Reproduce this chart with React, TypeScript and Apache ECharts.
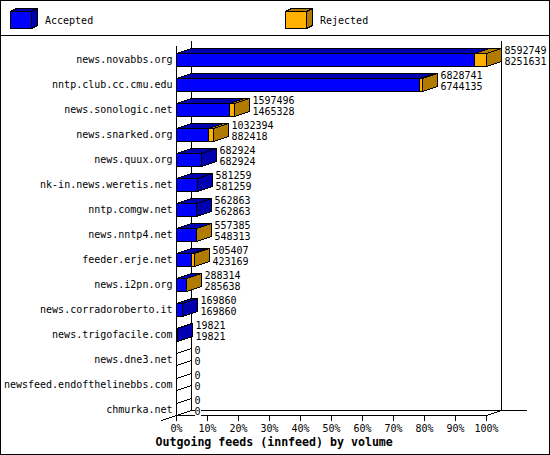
import React, { useEffect, useRef } from "react";
import * as echarts from "echarts";

const hosts = ["news.novabbs.org","nntp.club.cc.cmu.edu","news.sonologic.net","news.snarked.org","news.quux.org","nk-in.news.weretis.net","nntp.comgw.net","news.nntp4.net","feeder.erje.net","news.i2pn.org","news.corradoroberto.it","news.trigofacile.com","news.dne3.net","newsfeed.endofthelinebbs.com","chmurka.net"];
const offered = [8592749,6828741,1597496,1032394,682924,581259,562863,557385,505407,288314,169860,19821,0,0,0];
const accepted = [8251631,6744135,1465328,882418,682924,581259,562863,548313,423169,285638,169860,19821,0,0,0];
const tickPercents = [0,10,20,30,40,50,60,70,80,90,100];

const FONT = "'DejaVu Sans Mono'";
const BLUE = "#0000ff", BLUE_DARK = "#0000b0", ORANGE = "#ffb000", BROWN = "#b07b00";
const DX = 15, DY = 5;
const maxValue = Math.max(...offered);

const snap = (v: number) => Math.floor(v) + 0.5;

function poly(points: number[][], fill: string) {
  return { type: "polygon", shape: { points }, style: { fill, stroke: "#000", lineWidth: 1 } };
}
function seg(x1: number, y1: number, x2: number, y2: number) {
  return { type: "line", shape: { x1, y1, x2, y2 }, style: { stroke: "#000", lineWidth: 1 } };
}
function block(x0: number, x1: number, top: number, bot: number, front: string, dark: string) {
  return [
    poly([[x0, top], [x1, top], [x1 + DX, top - DY], [x0 + DX, top - DY]], dark),
    poly([[x1, top], [x1 + DX, top - DY], [x1 + DX, bot - DY], [x1, bot]], dark),
    poly([[x0, top], [x1, top], [x1, bot], [x0, bot]], front),
  ];
}
function cube(x: number, y: number, w: number, h: number, front: string, dark: string) {
  const d = 6, e = 3;
  return [
    { type: "polygon", shape: { points: [[x, y], [x + w, y], [x + w + d, y - e], [x + d, y - e]] }, style: { fill: dark, stroke: "#000", lineWidth: 1 } },
    { type: "polygon", shape: { points: [[x + w, y], [x + w + d, y - e], [x + w + d, y + h - e], [x + w, y + h]] }, style: { fill: dark, stroke: "#000", lineWidth: 1 } },
    { type: "rect", shape: { x, y, width: w, height: h }, style: { fill: front, stroke: "#000", lineWidth: 1 } },
  ];
}

export default function App() {
  const ref = useRef<HTMLDivElement>(null);
  useEffect(() => {
    document.body.style.margin = "0";
    const chart = echarts.init(ref.current!, undefined, { renderer: "svg" });
    chart.setOption({
      animation: false,
      backgroundColor: "#fff",
      grid: { left: 176.5, top: 40.5, width: 310, height: 375, containLabel: false },
      xAxis: {
        type: "value", min: 0, max: 100, interval: 10,
        splitLine: { show: false },
        axisLine: { show: true, lineStyle: { color: "#000", width: 1 } },
        axisTick: { show: true, length: 5, lineStyle: { color: "#000", width: 1 } },
        axisLabel: { formatter: (v: number) => (tickPercents.includes(v) ? v + "%" : ""), color: "#000", fontFamily: FONT, fontSize: 10, margin: 8 },
      },
      yAxis: {
        type: "category", inverse: true, data: hosts,
        axisLine: { show: false }, axisTick: { show: false }, splitLine: { show: false },
        axisLabel: { color: "#000", fontFamily: FONT, fontSize: 10, margin: 4, verticalAlign: "top", padding: [1, 0, 0, 0] },
      },
      series: [
        {
          type: "custom", coordinateSystem: "cartesian2d", clip: false, z: 1, silent: true,
          data: [[0, 0]],
          renderItem: (_p: any, api: any) => {
            const x0 = snap(api.coord([0, 0])[0]);
            const x1 = snap(api.coord([100, 0])[0]);
            const band = api.size([0, 1])[1];
            const yTop = snap(api.coord([0, 0])[1] - band / 2);
            const yBot = snap(yTop + band * hosts.length);
            const children: any[] = [
              seg(x0, yTop + DY, x0, yBot),
              seg(x0 + DX, yTop, x0 + DX, yBot - DY),
              seg(x1 + DX, yTop, x1 + DX, yBot - DY),
              seg(x0 + DX, yBot - DY, x1 + DX + 25, yBot - DY),
              seg(x1, yBot, x1 + DX, yBot - DY),
              seg(x0 - DX, yBot + DY, x0 + DX, yBot - DY),
            ];
            for (let k = 1; k <= hosts.length * 2 - 1; k++) {
              const y = snap(yBot - (k * band) / 2);
              children.push(seg(x0, y, x0 + DX, y - DY));
            }
            return { type: "group", children };
          },
        },
        {
          type: "custom", coordinateSystem: "cartesian2d", clip: false, z: 2, silent: true,
          encode: { x: 1, y: 0 },
          data: hosts.map((_h, i) => [i, (accepted[i] / maxValue) * 100, (offered[i] / maxValue) * 100, offered[i], accepted[i]]),
          renderItem: (_p: any, api: any) => {
            const i = api.value(0);
            const c = api.coord([0, i]);
            const band = api.size([0, 1])[1];
            const x0 = snap(c[0]);
            const top = snap(c[1]);
            const bot = snap(top + band / 2);
            const xa = snap(api.coord([api.value(1), i])[0]);
            const xt = snap(api.coord([api.value(2), i])[0]);
            const children: any[] = [];
            if (api.value(3) > 0) {
              children.push(...block(x0, xa, top, bot, BLUE, BLUE_DARK));
              if (api.value(3) > api.value(4)) children.push(...block(xa, xt, top, bot, ORANGE, BROWN));
            }
            const tx = xt + DX + 3;
            const label = (text: string, y: number) => ({
              type: "text", x: tx, y,
              style: { text, fill: "#000", font: `10px ${FONT}`, textAlign: "left", textVerticalAlign: "middle", backgroundColor: "#fff" },
            });
            children.push(label(String(api.value(3)), top - 3), label(String(api.value(4)), top + 8));
            return { type: "group", children };
          },
        },
      ],
      graphic: [
        { type: "rect", shape: { x: 0.5, y: 0.5, width: 549, height: 454 }, style: { fill: "none", stroke: "#000", lineWidth: 1 }, z: 10 },
        { type: "line", shape: { x1: 0, y1: 35.5, x2: 550, y2: 35.5 }, style: { stroke: "#000", lineWidth: 1 }, z: 10 },
        ...cube(10.5, 11.5, 21, 17, BLUE, BLUE_DARK).map((e) => ({ ...e, z: 10 })),
        ...cube(285.5, 11.5, 21, 17, ORANGE, BROWN).map((e) => ({ ...e, z: 10 })),
        { type: "text", x: 45, y: 20, z: 10, style: { text: "Accepted", fill: "#000", font: `10px ${FONT}`, textVerticalAlign: "middle" } },
        { type: "text", x: 320, y: 20, z: 10, style: { text: "Rejected", fill: "#000", font: `10px ${FONT}`, textVerticalAlign: "middle" } },
        { type: "text", x: 155.5, y: 442, z: 10, style: { text: "Outgoing feeds (innfeed) by volume", fill: "#000", font: `bold 11.6px ${FONT}`, textVerticalAlign: "middle" } },
      ],
    });
    return () => chart.dispose();
  }, []);
  return (
    <>
      <style>{"svg path,svg line,svg rect,svg polygon{shape-rendering:crispEdges}"}</style>
      <div ref={ref} style={{ width: 550, height: 455 }} />
    </>
  );
}
